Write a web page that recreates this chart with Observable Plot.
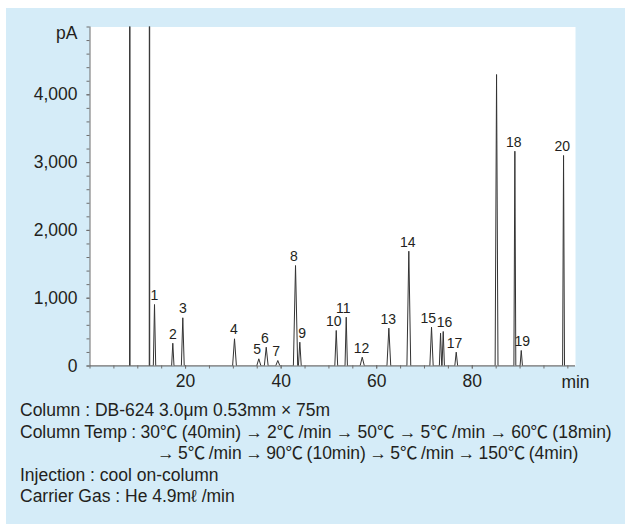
<!DOCTYPE html>
<html>
<head>
<meta charset="utf-8">
<script src="https://cdn.jsdelivr.net/npm/d3@7"></script>
<script src="https://cdn.jsdelivr.net/npm/@observablehq/plot@0.6"></script>
<style>
  html, body { margin: 0; padding: 0; background: #ffffff; }
  #box {
    position: absolute; left: 6px; top: 8px; width: 619px; height: 516px;
    background: #d5ecf8; overflow: hidden;
    font-family: "Liberation Sans", Arial, "Noto Sans CJK JP", sans-serif;
    color: #231f20;
  }
  #caption { padding-left: 14px; font-size: 17.5px; line-height: 21.5px; white-space: nowrap; }
  #caption .temp { word-spacing: -0.6px; }
  #caption .indent { padding-left: 137px; word-spacing: -1.4px; }
</style>
</head>
<body>
<div id="box">
  <div id="chart"></div>
  <div id="caption"></div>
</div>
<script>
// ---- data ----
const peakTime   = [8.33, 12.45, 13.50, 17.33, 19.42, 30.24, 35.33, 36.88, 39.30, 43.01, 43.91, 51.53, 53.62, 56.97, 62.54, 66.72, 71.47, 73.36, 73.92, 76.64, 85.08, 88.91, 90.25, 99.10];
const peakHeight = [20000, 20000, 907, 336, 711, 401, 106, 277, 81, 1482, 351, 524, 720, 130, 558, 1693, 572, 484, 509, 204, 4299, 3168, 229, 3105];
const peakHalfWidth = [0.05, 0.05, 0.25, 0.25, 0.3, 0.4, 0.45, 0.4, 0.45, 0.45, 0.3, 0.3, 0.25, 0.45, 0.4, 0.4, 0.35, 0.25, 0.25, 0.3, 0.3, 0.2, 0.25, 0.2];
const peakLabel  = ["", "", "1", "2", "3", "4", "5", "6", "7", "8", "9", "10", "11", "12", "13", "14", "15", "", "16", "17", "", "18", "19", "20"];

const xTicks = [20, 40, 60, 80];
const yTicks = [0, 1000, 2000, 3000, 4000];
const xUnit = "min";
const yUnit = "pA";

const captionLines = [
  "Column : DB-624 3.0μm 0.53mm × 75m",
  "Column Temp : 30℃ (40min) → 2℃ /min → 50℃ → 5℃ /min → 60℃ (18min)",
  "→ 5℃ /min → 90℃ (10min) → 5℃ /min → 150℃ (4min)",
  "Injection : cool on-column",
  "Carrier Gas : He 4.9mℓ /min"
];

// small label nudges (pixels)
const labelDx = {"4": -0.7, "5": -1.6, "6": -1.4, "7": -1.6, "8": -1.7, "9": 2.4,
                 "10": -2.4, "11": -3, "12": -0.7, "13": -0.6, "14": -1, "15": -3.3, "16": 1.3, "17": -1.7,
                 "18": -1, "19": 1, "20": -1.3};

// ---- build the trace: baseline + triangular peaks ----
const peaks = peakTime.map((t, i) => ({t, h: peakHeight[i], w: peakHalfWidth[i], label: peakLabel[i]}));
const trace = [{t: 0, v: 0}];
for (const p of peaks) trace.push({t: p.t - p.w, v: 0}, {t: p.t, v: p.h}, {t: p.t + p.w, v: 0});
trace.push({t: 101.6, v: 0});

const ink = "#231f20";
const axisGray = "#6d6d6d";

const chart = Plot.plot({
  width: 619, height: 392,
  marginLeft: 83.5, marginRight: 50, marginTop: 18.5, marginBottom: 34.5,
  style: {background: "transparent", fontFamily: "'Liberation Sans', Arial, sans-serif", fontSize: "17.5px", color: ink},
  x: {domain: [0, 101.6], axis: null, label: null},
  y: {domain: [0, 5000], axis: null, label: null},
  marks: [
    Plot.frame({fill: "white", stroke: null}),
    Plot.axisY({interval: 200, tickSize: 3, stroke: axisGray, tickFormat: () => "", label: null}),
    Plot.axisY(yTicks, {tickSize: 3, tickPadding: 9.5, stroke: axisGray, fill: ink, tickFormat: d3.format(","), label: null}),
    Plot.axisX({interval: 5, tickSize: 3, stroke: axisGray, tickFormat: () => "", label: null}),
    Plot.axisX(xTicks, {tickSize: 3, tickPadding: 6, stroke: axisGray, fill: ink, label: null}),
    Plot.ruleX([0], {stroke: axisGray}),
    Plot.ruleY([0], {stroke: axisGray}),
    Plot.line(trace, {x: "t", y: "v", stroke: "#333", strokeWidth: 1, clip: true}),
    Plot.text(peaks.filter(p => p.label), {x: "t", y: "h", text: "label", dy: -9, fill: ink, fontSize: 14}),
    Plot.text([xUnit], {x: 101.6, y: 0, text: d => d, dy: 16, fill: ink, fontSize: 17.5}),
    Plot.text([yUnit], {x: 0, y: 5000, text: d => d, dx: -12.5, dy: 6.5, textAnchor: "end", fill: ink, fontSize: 17.5})
  ]
});
document.getElementById("chart").appendChild(chart);

// size + nudge the peak labels (the text mark group carrying font-size 14)
chart.querySelectorAll("g").forEach(g => {
  if (g.getAttribute("font-size") === "14") {
    g.querySelectorAll("text").forEach(t => {
      t.style.fontSize = "14px";
      const k = t.textContent;
      if (labelDx[k] !== undefined) t.setAttribute("dx", labelDx[k]);
    });
  }
});

const cap = document.getElementById("caption");
captionLines.forEach(line => {
  const div = document.createElement("div");
  if (line.startsWith("→")) div.className = "indent";
  else if (line.includes("→")) div.className = "temp";
  div.textContent = line;
  cap.appendChild(div);
});
</script>
</body>
</html>
